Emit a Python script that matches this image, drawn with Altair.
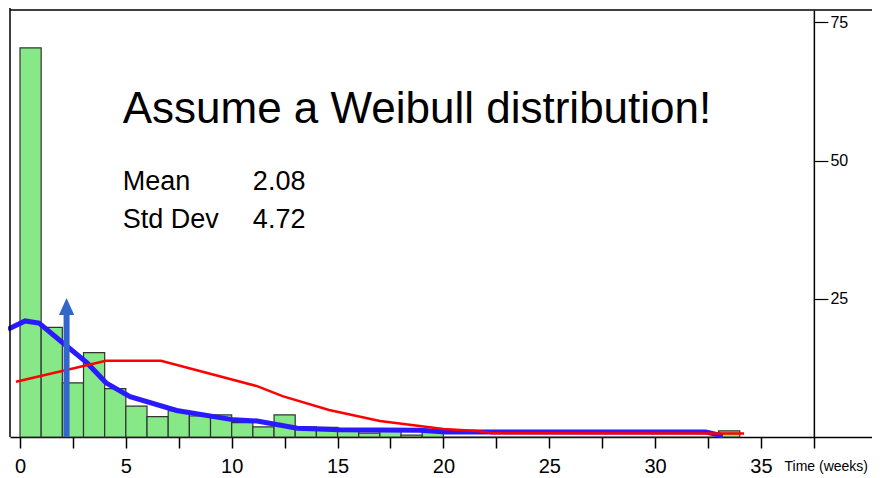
import altair as alt
import pandas as pd

# ---- data ----
bin_start = list(range(34))
bin_count = [70.4, 19.85, 9.8, 15.25, 8.75, 5.6, 3.7, 4.75, 3.8, 4.0,
             2.6, 1.85, 4.0, 1.85, 1.75, 1.25, 0.7, 1.4, 0.35, 0.95,
             0, 0, 0, 0, 0, 0, 0, 0, 0, 0, 0, 0, 0, 1.1]

red_x = [-0.19, 4.06, 6.66, 11.2, 12.4, 14.6, 17.0, 20.0, 21.6, 22.3, 34.2]
red_y = [10.0, 13.8, 13.8, 9.2, 7.4, 4.9, 2.9, 1.45, 1.1, 0.7, 0.65]

blue_x = [-0.57, 0.24, 0.9, 2.03, 3.17, 4.06, 5.2, 7.4, 10.1, 11.2, 13.1,
          15.1, 18.9, 20.1, 32.4, 33.2]
blue_y = [19.5, 21.0, 20.6, 17.0, 13.4, 9.8, 7.3, 4.8, 3.1, 2.9, 1.6,
          1.3, 1.2, 0.9, 0.9, 0.2]

arrow_x = 2.2
arrow_shaft_top = 22.5
arrow_head_y = 23.6

x_ticks = [i * 2.5 for i in range(16)]
y_ticks = [25, 50, 75]

title_text = "Assume a Weibull distribution!"
stat_names = ["Mean", "Std Dev"]
stat_values = ["2.08", "4.72"]
title_pos = (4.85, 56.8)
stat_name_x = 4.85
stat_value_x = 11.0
stat_y = [44.7, 37.9]

W, H = 862, 427
PX_PER_UNIT = 21.17
FONT = "Liberation Sans"

x_min = -10 / PX_PER_UNIT
x_max = x_min + W / PX_PER_UNIT
y_axis_x = 37.5
y_offset = (y_axis_x - x_min) * PX_PER_UNIT - W

xs = alt.Scale(domain=[x_min, x_max], nice=False, zero=False)
ys = alt.Scale(domain=[0, 77.26], nice=False, zero=True)

bars_df = pd.DataFrame({"start": bin_start,
                        "end": [b + 1 for b in bin_start],
                        "count": bin_count})
red_df = pd.DataFrame({"x": red_x, "y": red_y})
blue_df = pd.DataFrame({"x": blue_x, "y": blue_y})
arrow_df = pd.DataFrame({"x": [arrow_x], "y0": [0], "y1": [arrow_shaft_top],
                         "yh": [arrow_head_y]})
title_df = pd.DataFrame({"x": [title_pos[0]], "y": [title_pos[1]], "t": [title_text]})
stat_df = pd.DataFrame({"xn": [stat_name_x] * 2, "xv": [stat_value_x] * 2,
                        "y": stat_y, "n": stat_names, "v": stat_values})
dummy = pd.DataFrame({"a": [0]})

x_axis = alt.Axis(values=x_ticks, format="d",
                  labelExpr="datum.value % 5 === 0 ? datum.label : ''",
                  labelOverlap=False, labelFontSize=20, labelPadding=8,
                  labelColor="black", tickSize=11, tickWidth=1.5,
                  tickColor="black", domainColor="black", domainWidth=1.5,
                  grid=False, title="Time (weeks)", titleFontSize=14,
                  titleFontWeight="normal", titleColor="black",
                  titleX=774, titleY=33, titleAlign="left",
                  titleBaseline="alphabetic", titleAnchor="start")
y_axis = alt.Axis(orient="right", offset=y_offset, values=y_ticks, grid=False,
                  labelFontSize=16, labelColor="black", labelPadding=2,
                  tickSize=14, tickWidth=1.2, tickColor="black",
                  domainColor="black", domainWidth=1.5, title=None)

bars = alt.Chart(bars_df).mark_rect(
    fill="#86e886", stroke="#333333", strokeWidth=1.2
).encode(
    x=alt.X("start:Q", scale=xs, axis=x_axis),
    x2="end:Q",
    y=alt.Y("count:Q", scale=ys, axis=y_axis),
    y2=alt.datum(0),
)

blue = alt.Chart(blue_df).mark_line(color="#2a1aff", strokeWidth=5).encode(
    x=alt.X("x:Q", scale=xs), y=alt.Y("y:Q", scale=ys))
red = alt.Chart(red_df).mark_line(color="#ff0000", strokeWidth=2.5).encode(
    x=alt.X("x:Q", scale=xs), y=alt.Y("y:Q", scale=ys))

shaft = alt.Chart(arrow_df).mark_rule(color="#3366cc", strokeWidth=6).encode(
    x=alt.X("x:Q", scale=xs), y=alt.Y("y0:Q", scale=ys), y2="y1:Q")
head = alt.Chart(arrow_df).mark_point(
    shape="M0,-1L0.9,1L-0.9,1Z", size=289, filled=True, color="#3366cc",
    opacity=1).encode(x=alt.X("x:Q", scale=xs), y=alt.Y("yh:Q", scale=ys))

title = alt.Chart(title_df).mark_text(
    fontSize=44, font=FONT, align="left", baseline="alphabetic", color="black"
).encode(x=alt.X("x:Q", scale=xs), y=alt.Y("y:Q", scale=ys), text="t:N")
names = alt.Chart(stat_df).mark_text(
    fontSize=27, font=FONT, align="left", baseline="alphabetic", color="black"
).encode(x=alt.X("xn:Q", scale=xs), y=alt.Y("y:Q", scale=ys), text="n:N")
vals = alt.Chart(stat_df).mark_text(
    fontSize=27, font=FONT, align="left", baseline="alphabetic", color="black"
).encode(x=alt.X("xv:Q", scale=xs), y=alt.Y("y:Q", scale=ys), text="v:N")

top_line = alt.Chart(dummy).mark_rule(color="black", strokeWidth=1.5).encode(
    x=alt.value(0), x2=alt.value(W), y=alt.value(0))
left_line = alt.Chart(dummy).mark_rule(color="black", strokeWidth=1.5).encode(
    x=alt.value(0), y=alt.value(-2), y2=alt.value(H))

chart = alt.layer(
    bars, blue, red, shaft, head, title, names, vals, top_line, left_line
).properties(
    width=W, height=H,
    autosize=alt.AutoSizeParams(type="none"),
    padding={"left": 2, "top": 2, "right": 0, "bottom": 40},
    background="white",
).configure_view(stroke=None).configure_axis(labelFont=FONT, titleFont=FONT)

chart.save("out.html", embed_options={"renderer": "svg", "actions": False})
